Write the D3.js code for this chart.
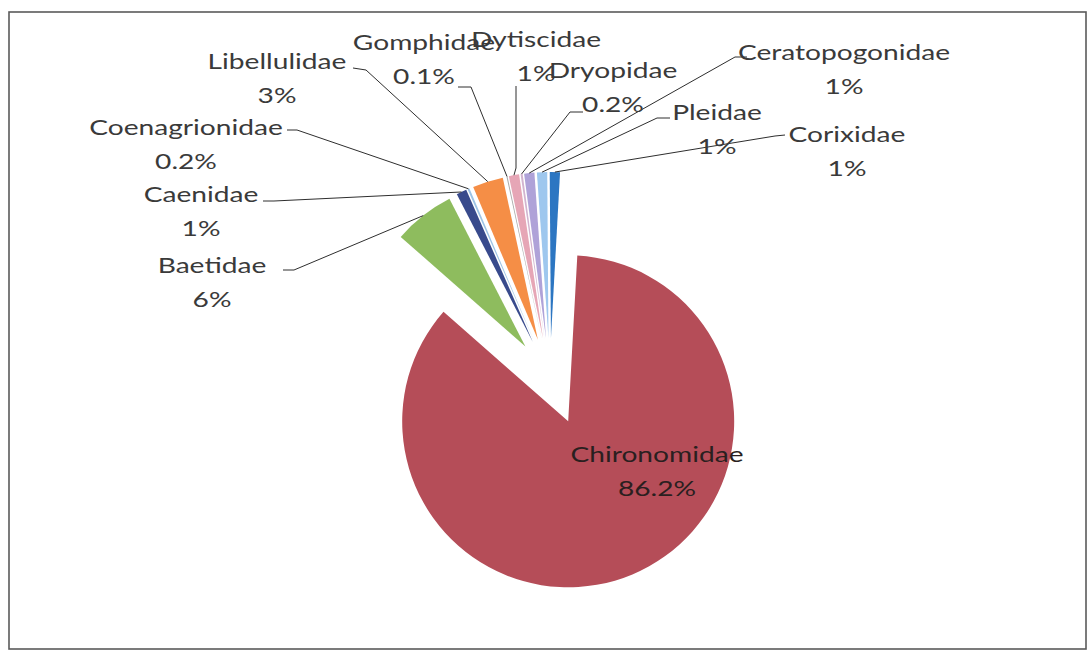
<!DOCTYPE html>
<html>
<head>
<meta charset="utf-8">
<script src="https://cdn.jsdelivr.net/npm/d3@7"></script>
<style>
  body { margin: 0; background: #fff; }
  svg { display: block; }
</style>
</head>
<body>
<svg id="chart" width="1091" height="655"></svg>
<script>
// Macroinvertebrate families and their share of individuals (%)
const families = ["Chironomidae", "Baetidae", "Caenidae", "Coenagrionidae", "Libellulidae",
                  "Gomphidae", "Dytiscidae", "Dryopidae", "Ceratopogonidae", "Pleidae", "Corixidae"];
const shares = [86.2, 6, 1, 0.2, 3, 0.1, 1, 0.2, 1, 1, 1];
const percentLabels = ["86.2%", "6%", "1%", "0.2%", "3%", "0.1%", "1%", "0.2%", "1%", "1%", "1%"];

const sliceColors = ["#B54D58", "#8EBC5E", "#384A8C", "#9CC3E5", "#F58E46",
                     "#A9A9A9", "#E6A6B6", "#D2B4CF", "#AFA2D8", "#9EC7EE", "#2C76C2"];

// Label placement: centre x and first-line baseline, plus the two leader points near the label
const labelLayout = {
  Chironomidae:    { x: 657, y: 462 },
  Baetidae:        { x: 212, y: 273, leader: [[283, 270], [294, 270]] },
  Caenidae:        { x: 201, y: 202, leader: [[263, 201], [274, 201]] },
  Coenagrionidae:  { x: 186, y: 135, leader: [[287, 130], [297, 130]] },
  Libellulidae:    { x: 277, y: 69,  leader: [[353, 68], [366, 70]] },
  Gomphidae:       { x: 424, y: 50,  leader: [[458, 87], [471, 87]] },
  Dytiscidae:      { x: 536, y: 47,  leader: [[516, 86], [516, 168]] },
  Dryopidae:       { x: 613, y: 78,  leader: [[583, 112], [570, 112]] },
  Ceratopogonidae: { x: 844, y: 60,  leader: [[747, 57], [735, 57]] },
  Pleidae:         { x: 717, y: 120, leader: [[670, 118], [657, 118]] },
  Corixidae:       { x: 847, y: 142, leader: [[785, 135], [775, 136]] }
};

const svg = d3.select("#chart");

// chart frame
svg.append("rect")
  .attr("x", 9).attr("y", 12)
  .attr("width", 1077).attr("height", 637)
  .attr("fill", "#fff")
  .attr("stroke", "#5a5a5a")
  .attr("stroke-width", 1.6);

const center = [550, 378];
const radius = 166;
const explodeMain = 47;
const explodeSmall = 40;
const lineHeight = 34;
const textStretch = 1.28;

const rows = families.map((name, i) => ({ name, value: shares[i], label: percentLabels[i], color: sliceColors[i] }));

const startDeg = 3.15;
const pie = d3.pie()
  .sort(null)
  .value(d => d.value)
  .startAngle(startDeg * Math.PI / 180)
  .endAngle(startDeg * Math.PI / 180 + 2 * Math.PI);

const arcs = pie(rows);
const arc = d3.arc().innerRadius(0).outerRadius(radius);

const unit = a => [Math.sin(a), -Math.cos(a)];

arcs.forEach(a => {
  const mid = (a.startAngle + a.endAngle) / 2;
  const u = unit(mid);
  const e = a.index === 0 ? explodeMain : explodeSmall;
  a.origin = [center[0] + e * u[0], center[1] + e * u[1]];
  a.outer = [a.origin[0] + radius * u[0], a.origin[1] + radius * u[1]];
});

const g = svg.append("g");

g.selectAll("path.slice")
  .data(arcs)
  .join("path")
  .attr("class", "slice")
  .attr("transform", d => `translate(${d.origin[0]},${d.origin[1]})`)
  .attr("d", arc)
  .attr("fill", d => d.data.color);

// leader lines
const line = d3.line();
g.selectAll("path.leader")
  .data(arcs.filter(d => labelLayout[d.data.name].leader))
  .join("path")
  .attr("class", "leader")
  .attr("d", d => line([...labelLayout[d.data.name].leader, d.outer]))
  .attr("fill", "none")
  .attr("stroke", "#2e2e2e")
  .attr("stroke-width", 1);

// data labels: family name over percentage
const labels = g.selectAll("g.label")
  .data(arcs)
  .join("g")
  .attr("class", "label")
  .attr("transform", d => {
    const p = labelLayout[d.data.name];
    return `translate(${p.x},${p.y}) scale(${textStretch},1)`;
  })
  .attr("font-family", "Lato, 'Open Sans', sans-serif")
  .attr("font-size", 22)
  .attr("fill", d => d.index === 0 ? "#2a1f20" : "#3a3a3a")
  .attr("text-anchor", "middle");

labels.append("text").attr("y", 0).text(d => d.data.name);
labels.append("text").attr("y", lineHeight).text(d => d.data.label);
</script>
</body>
</html>
